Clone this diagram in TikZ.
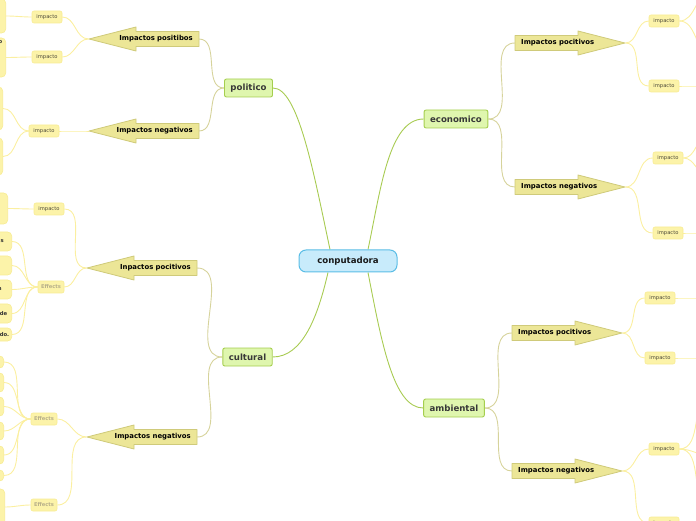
\documentclass[tikz,border=0pt]{standalone}
\usepackage{fontspec}
\setmainfont{DejaVu Sans}
\usetikzlibrary{backgrounds}

\definecolor{hubfill}{HTML}{C8EBFB}
\definecolor{hubline}{HTML}{5BBDE6}
\definecolor{topicfill}{HTML}{DFF6AE}
\definecolor{topicline}{HTML}{A5CE4E}
\definecolor{branchfill}{HTML}{ECE697}
\definecolor{branchline}{HTML}{CFCA7A}
\definecolor{leaffill}{HTML}{FCF3A9}
\definecolor{leafline}{HTML}{F7EB93}
\definecolor{leaftext}{HTML}{4D4A3A}
\definecolor{efftext}{HTML}{B8B08A}
\definecolor{trunkline}{HTML}{A8CB52}
\definecolor{boughline}{HTML}{D6D39B}
\definecolor{twigline}{HTML}{FBEFA0}

\begin{document}
\begin{tikzpicture}[x=1pt,y=1pt,
hub/.style={draw=hubline,fill=hubfill,line width=1pt,rounded corners=7pt,minimum width=98pt,
minimum height=22pt,font=\fontsize{8.6}{10}\selectfont\bfseries,text=black!90},
topic/.style={draw=topicline,fill=topicfill,line width=0.9pt,rounded corners=2pt,minimum height=18pt,
inner xsep=6pt,font=\fontsize{8.6}{10}\selectfont\bfseries,text=black!78},
branch/.style={minimum height=16pt,inner xsep=6pt,inner ysep=0pt,text width=98pt,
font=\fontsize{6.9}{8}\selectfont\bfseries},
lbranch/.style={branch,align=right,anchor=east},
rbranch/.style={branch,align=left,anchor=west},
arrowbody/.style={draw=branchline,fill=branchfill,line width=0.8pt,line join=round},
leaf/.style={draw=leafline,fill=leaffill,line width=0.6pt,rounded corners=2pt,minimum width=30pt,
minimum height=12pt,inner sep=0pt,font=\fontsize{5.2}{6}\selectfont,text=leaftext},
effect/.style={leaf,minimum width=26pt,text=efftext,font=\fontsize{5.2}{6}\selectfont\bfseries},
stub/.style={draw=leafline,fill=leaffill,line width=0.6pt,rounded corners=4pt,anchor=east,
text width=40pt,align=right,inner ysep=0pt,font=\fontsize{5.3}{6}\selectfont\bfseries,text=black!80},
stubtext/.style={inner sep=0pt,font=\fontsize{5.3}{6}\selectfont\bfseries,text=black!80},
trunk/.style={draw=trunkline,line width=0.9pt},
bough/.style={draw=boughline,line width=0.9pt},
twig/.style={draw=twigline,line width=0.9pt}]
\useasboundingbox (0,0) rectangle (696,520);
\clip (0,0) rectangle (696,520);
% centre and topics
\node[hub] (comp) at (348,259) {conputadora};
\node[topic] (pol) at (248.5,432) {politico};
\node[topic] (eco) at (456,401) {economico};
\node[topic] (cul) at (247.5,163) {cultural};
\node[topic] (amb) at (454,112) {ambiental};
% arrows
\node[lbranch] (polpos) at (199,481) {Impactos positibos};
\node[lbranch] (polneg) at (199,389) {Impactos negativos};
\node[lbranch] (culpos) at (197,252) {Inpactos pocitivos};
\node[lbranch] (culneg) at (197,83) {Impactos negativos};
\node[rbranch] (ecopos) at (515,477) {Impactos pocitivos};
\node[rbranch] (econeg) at (515,333) {Impactos negativos};
\node[rbranch] (ambpos) at (512,187) {Impactos pocitivos};
\node[rbranch] (ambneg) at (512,49) {Impactos negativos};
% leaves
\node[leaf] (lpp1) at (47,503) {impacto};
\node[leaf] (lpp2) at (47,463) {impacto};
\node[leaf] (lpn1) at (44,389) {impacto};
\node[leaf] (lcp1) at (49,311) {impacto};
\node[effect] (lcp2) at (51,233) {Effects};
\node[effect] (lcn1) at (44,101) {Effects};
\node[effect] (lcn2) at (44,15) {Effects};
\node[leaf] (rep1) at (664,499) {impacto};
\node[leaf] (rep2) at (664,434) {impacto};
\node[leaf] (ren1) at (668,362) {impacto};
\node[leaf] (ren2) at (668,287) {impacto};
\node[leaf] (rap1) at (660,222) {impacto};
\node[leaf] (rap2) at (660,162) {impacto};
\node[leaf] (ran1) at (664,71) {impacto};
\node[leaf] (ran2) at (664,-3) {impacto};
% cut off at the left edge
\node[stub,minimum height=34pt] (pp1) at (6,504) {};
\node[stub,minimum height=39pt,label={[stubtext,anchor=north east,xshift=-3.5pt,yshift=-3pt]north east:o}] (pp2) at (6,462.5) {};
\node[stub,minimum height=43pt] (pn1) at (3,411.5) {};
\node[stub,minimum height=37pt] (pn2) at (3,363.5) {};
\node[stub,minimum height=31pt] (cp0) at (8,311.5) {};
\node[stub,minimum height=19pt,inner xsep=8pt] (c1) at (12,278.5) {s};
\node[stub,minimum height=19pt] (c2) at (12,254.5) {};
\node[stub,minimum height=19pt,inner xsep=10pt] (c3) at (12,230.5) {n};
\node[stub,minimum height=19pt,inner xsep=4.5pt] (c4) at (12,206.5) {de};
\node[stub,minimum height=13pt,inner xsep=2.5pt] (c5) at (12,185.5) {do.};
\node[stub,minimum height=12pt] (d1) at (4,158) {};
\node[stub,minimum height=19pt] (d2) at (4,137.5) {};
\node[stub,minimum height=19pt] (d3) at (4,113.5) {};
\node[stub,minimum height=18pt] (d4) at (4,89) {};
\node[stub,minimum height=18pt] (d5) at (4,65) {};
\node[stub,minimum height=11pt] (d6) at (4,44.5) {};
\node[stub,minimum height=36pt] (e1) at (5,13) {};
% cut off at the right edge
\coordinate (rep1a) at (712,528);
\coordinate (rep1b) at (712,467);
\coordinate (rep2a) at (712,434);
\coordinate (ren1a) at (709,384);
\coordinate (ren1b) at (709,344);
\coordinate (ren2a) at (712,287);
\coordinate (rap1a) at (712,222);
\coordinate (rap2a) at (712,162);
\coordinate (ran1a) at (713,123);
\coordinate (ran1b) at (712,64);
\coordinate (ran1c) at (713,15);
\begin{pgfonlayer}{background}
\draw[trunk] ([xshift=-18pt]comp.north) to[out=102,in=0,out distance=80pt,in distance=25pt] (pol.east);
\draw[trunk] ([xshift=20pt]comp.north) to[out=78,in=180,out distance=60pt,in distance=35pt] (eco.west);
\draw[trunk] ([xshift=-20pt]comp.south) to[out=-103,in=0,out distance=45pt,in distance=30pt] (cul.east);
\draw[trunk] ([xshift=20pt]comp.south) to[out=-79,in=180,out distance=70pt,in distance=30pt] (amb.west);
\foreach \a/\b in {pol/polpos,pol/polneg,cul/culpos,cul/culneg}
  \draw[bough] (\a.west) to[out=180,in=0] (\b.east);
\foreach \a/\b in {eco/ecopos,eco/econeg,amb/ambpos,amb/ambneg}
  \draw[bough] (\a.east) to[out=0,in=180] (\b.west);
\foreach \a/\b in {polpos/lpp1,polpos/lpp2,polneg/lpn1,culpos/lcp1,culpos/lcp2,culneg/lcn1,culneg/lcn2,
  lpp1/pp1,lpp2/pp2,lpn1/pn1,lpn1/pn2,lcp1/cp0,lcp2/c1,lcp2/c2,lcp2/c3,lcp2/c4,lcp2/c5,
  lcn1/d1,lcn1/d2,lcn1/d3,lcn1/d4,lcn1/d5,lcn1/d6,lcn2/e1}
  \draw[twig] (\a.west) to[out=180,in=0] (\b.east);
\foreach \a/\b in {ecopos/rep1,ecopos/rep2,econeg/ren1,econeg/ren2,ambpos/rap1,ambpos/rap2,ambneg/ran1,ambneg/ran2}
  \draw[twig] (\a.east) to[out=0,in=180] (\b.west);
\foreach \a/\b in {rep1/rep1a,rep1/rep1b,rep2/rep2a,ren1/ren1a,ren1/ren1b,ren2/ren2a,rap1/rap1a,rap2/rap2a,
  ran1/ran1a,ran1/ran1b,ran1/ran1c}
  \draw[twig] (\a.east) to[out=0,in=180] (\b);
\foreach \n in {polpos,polneg,culpos,culneg}
  \draw[arrowbody,shift={(\n.east)}] (0,7.5) -- (-63,7.5) -- (-63,12) -- (-110,0) -- (-63,-12) -- (-63,-7.5) -- (0,-7.5) -- cycle;
\foreach \n in {ecopos,econeg,ambpos,ambneg}
  \draw[arrowbody,shift={(\n.west)}] (0,7.5) -- (63,7.5) -- (63,12) -- (110,0) -- (63,-12) -- (63,-7.5) -- (0,-7.5) -- cycle;
\end{pgfonlayer}
\end{tikzpicture}
\end{document}
